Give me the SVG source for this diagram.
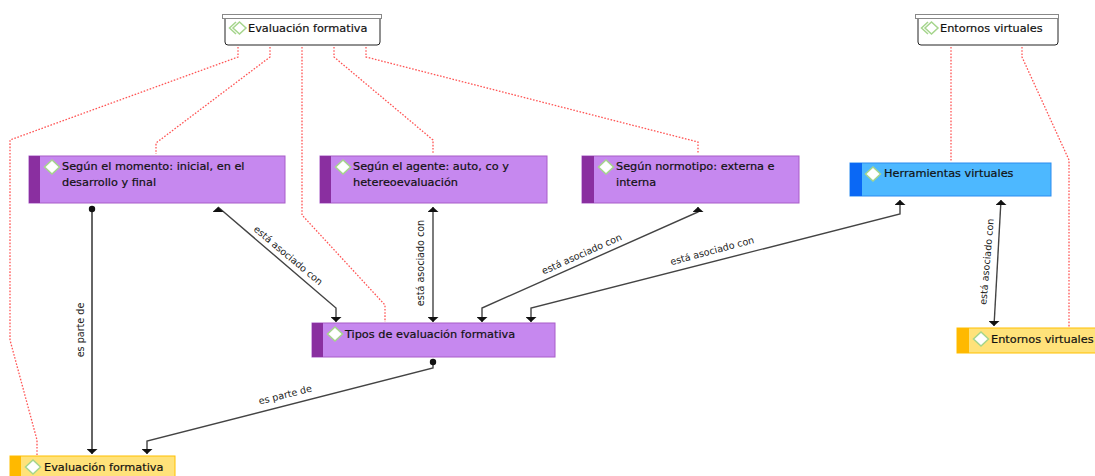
<svg xmlns="http://www.w3.org/2000/svg" width="1095" height="476" viewBox="0 0 1095 476">
<style>
text{font-family:"DejaVu Sans","Noto Sans",sans-serif;font-size:11.300px;fill:#111;stroke:#111;stroke-width:.2}
.l{font-size:9.600px;fill:#222;stroke:none;text-anchor:middle}
.d{fill:none;stroke:#f55;stroke-width:1.300;stroke-dasharray:1.600 1.600}
.c{fill:none;stroke:#444;stroke-width:1.400}
.g{fill:#fff;stroke:#a5d58c;stroke-width:1.500}
.pu{fill:#c688ef;stroke:#a85cc8;stroke-width:1}
.pb{fill:#8a2fa0}
.bl{fill:#4db8ff;stroke:#2a8cf0;stroke-width:1}
.bb{fill:#0a68f5}
.ye{fill:#ffe27a;stroke:#ffc000;stroke-width:1}
.yb{fill:#ffb900}
.box{fill:#fff;stroke:#222;stroke-width:1}
.bar{fill:#fff;stroke:#888;stroke-width:1}
</style>
<defs>
<marker id="dn" markerUnits="userSpaceOnUse" markerWidth="12" markerHeight="7" refX="5.500" refY="6" orient="0" viewBox="0 0 12 7"><path d="M0 1H11L5.500 6Z" fill="#111"/></marker>
<marker id="up" markerUnits="userSpaceOnUse" markerWidth="12" markerHeight="7" refX="5.500" refY="1" orient="0" viewBox="0 0 12 7"><path d="M0 6H11L5.500 1Z" fill="#111"/></marker>
<marker id="o" markerUnits="userSpaceOnUse" markerWidth="8" markerHeight="8" refX="4" refY="4" viewBox="0 0 8 8"><circle cx="4" cy="4" r="3.200" fill="#111"/></marker>
<path id="dia" d="M0-7L7.500 0L0 7L-7.500 0Z"/>
<path id="dia2" d="M0-6L6.500 0L0 6L-6.500 0Z"/>
</defs>
<g id="connectors">
<path class="d" d="M238 47V57L10 140V340L37 440V455"/>
<path class="d" d="M270 47V57L156 143V154"/>
<path class="d" d="M302 47V215L385 305V322"/>
<path class="d" d="M334 47V57L433 140V154"/>
<path class="d" d="M366 47V57L698 142V154"/>
<path class="d" d="M951 47V161"/>
<path class="d" d="M1022 47V57L1069 160V327"/>
<path class="c" style="stroke-width:2;stroke:#666" d="M92 209V454" marker-start="url(#o)" marker-end="url(#dn)"/>
<path class="c" d="M218 207L336 308V322" marker-start="url(#up)" marker-end="url(#dn)"/>
<path class="c" d="M433 207V322" marker-start="url(#up)" marker-end="url(#dn)"/>
<path class="c" d="M698 207V212L482 308V322" marker-start="url(#up)" marker-end="url(#dn)"/>
<path class="c" d="M900 200V214L531 308V322" marker-start="url(#up)" marker-end="url(#dn)"/>
<path class="c" d="M1001 200L994 326" marker-start="url(#up)" marker-end="url(#dn)"/>
<path class="c" d="M433 362V368L147 441V454" marker-start="url(#o)" marker-end="url(#dn)"/>
<text class="l" transform="translate(84 330) rotate(-90)">es parte de</text>
<text class="l" transform="translate(286 258) rotate(40)">está asociado con</text>
<text class="l" transform="translate(424 263) rotate(-90)">está asociado con</text>
<text class="l" transform="translate(583 257) rotate(-24)">está asociado con</text>
<text class="l" transform="translate(713 254) rotate(-15)">está asociado con</text>
<text class="l" transform="translate(990 262) rotate(-85)">está asociado con</text>
<text class="l" transform="translate(286 398) rotate(-14)">es parte de</text>
</g>
<g id="n1"><rect class="box" x="225" y="16" width="155" height="29" rx="3"/><rect class="bar" x="222.500" y="14.500" width="159" height="4"/><path class="g" style="fill:none" d="M236 22L229.500 28L236 34"/><use href="#dia2" class="g" x="239.500" y="28" style="fill:none"/><text x="248" y="32">Evaluación formativa</text></g>
<g id="n2"><rect class="box" x="918" y="16" width="140" height="29" rx="3"/><rect class="bar" x="915.500" y="14.500" width="143" height="4"/><path class="g" style="fill:none" d="M928 22L921.500 28L928 34"/><use href="#dia2" class="g" x="931.500" y="28" style="fill:none"/><text x="940" y="32">Entornos virtuales</text></g>
<g id="n3"><rect class="pu" x="29" y="156" width="256" height="47"/><rect class="pb" x="29" y="156" width="11" height="47"/><use href="#dia" class="g" x="52" y="167"/><text x="62" y="170">Según el momento: inicial, en el</text><text x="62" y="186">desarrollo y final</text></g>
<g id="n4"><rect class="pu" x="320" y="156" width="227" height="47"/><rect class="pb" x="320" y="156" width="11" height="47"/><use href="#dia" class="g" x="343" y="167"/><text x="353" y="170">Según el agente: auto, co y</text><text x="353" y="186">hetereoevaluación</text></g>
<g id="n5"><rect class="pu" x="582" y="156" width="217" height="47"/><rect class="pb" x="582" y="156" width="12" height="47"/><use href="#dia" class="g" x="606" y="167"/><text x="616" y="170">Según normotipo: externa e</text><text x="616" y="186">interna</text></g>
<g id="n6"><rect class="pu" x="312" y="323" width="243" height="34"/><rect class="pb" x="312" y="323" width="11" height="34"/><use href="#dia" class="g" x="335" y="334"/><text x="345" y="338">Tipos de evaluación formativa</text></g>
<g id="n7"><rect class="bl" x="850" y="163" width="201" height="33"/><rect class="bb" x="850" y="163" width="12" height="33"/><use href="#dia" class="g" x="873" y="174"/><text x="884" y="177">Herramientas virtuales</text></g>
<g id="n8"><rect class="ye" x="957" y="328" width="140" height="25"/><rect class="yb" x="957" y="328" width="12" height="25"/><use href="#dia" class="g" x="981" y="339"/><text x="991" y="343">Entornos virtuales</text></g>
<g id="n9"><rect class="ye" x="10" y="456" width="165" height="24"/><rect class="yb" x="10" y="456" width="11" height="24"/><use href="#dia" class="g" x="33" y="467"/><text x="44" y="471">Evaluación formativa</text></g>
</svg>
